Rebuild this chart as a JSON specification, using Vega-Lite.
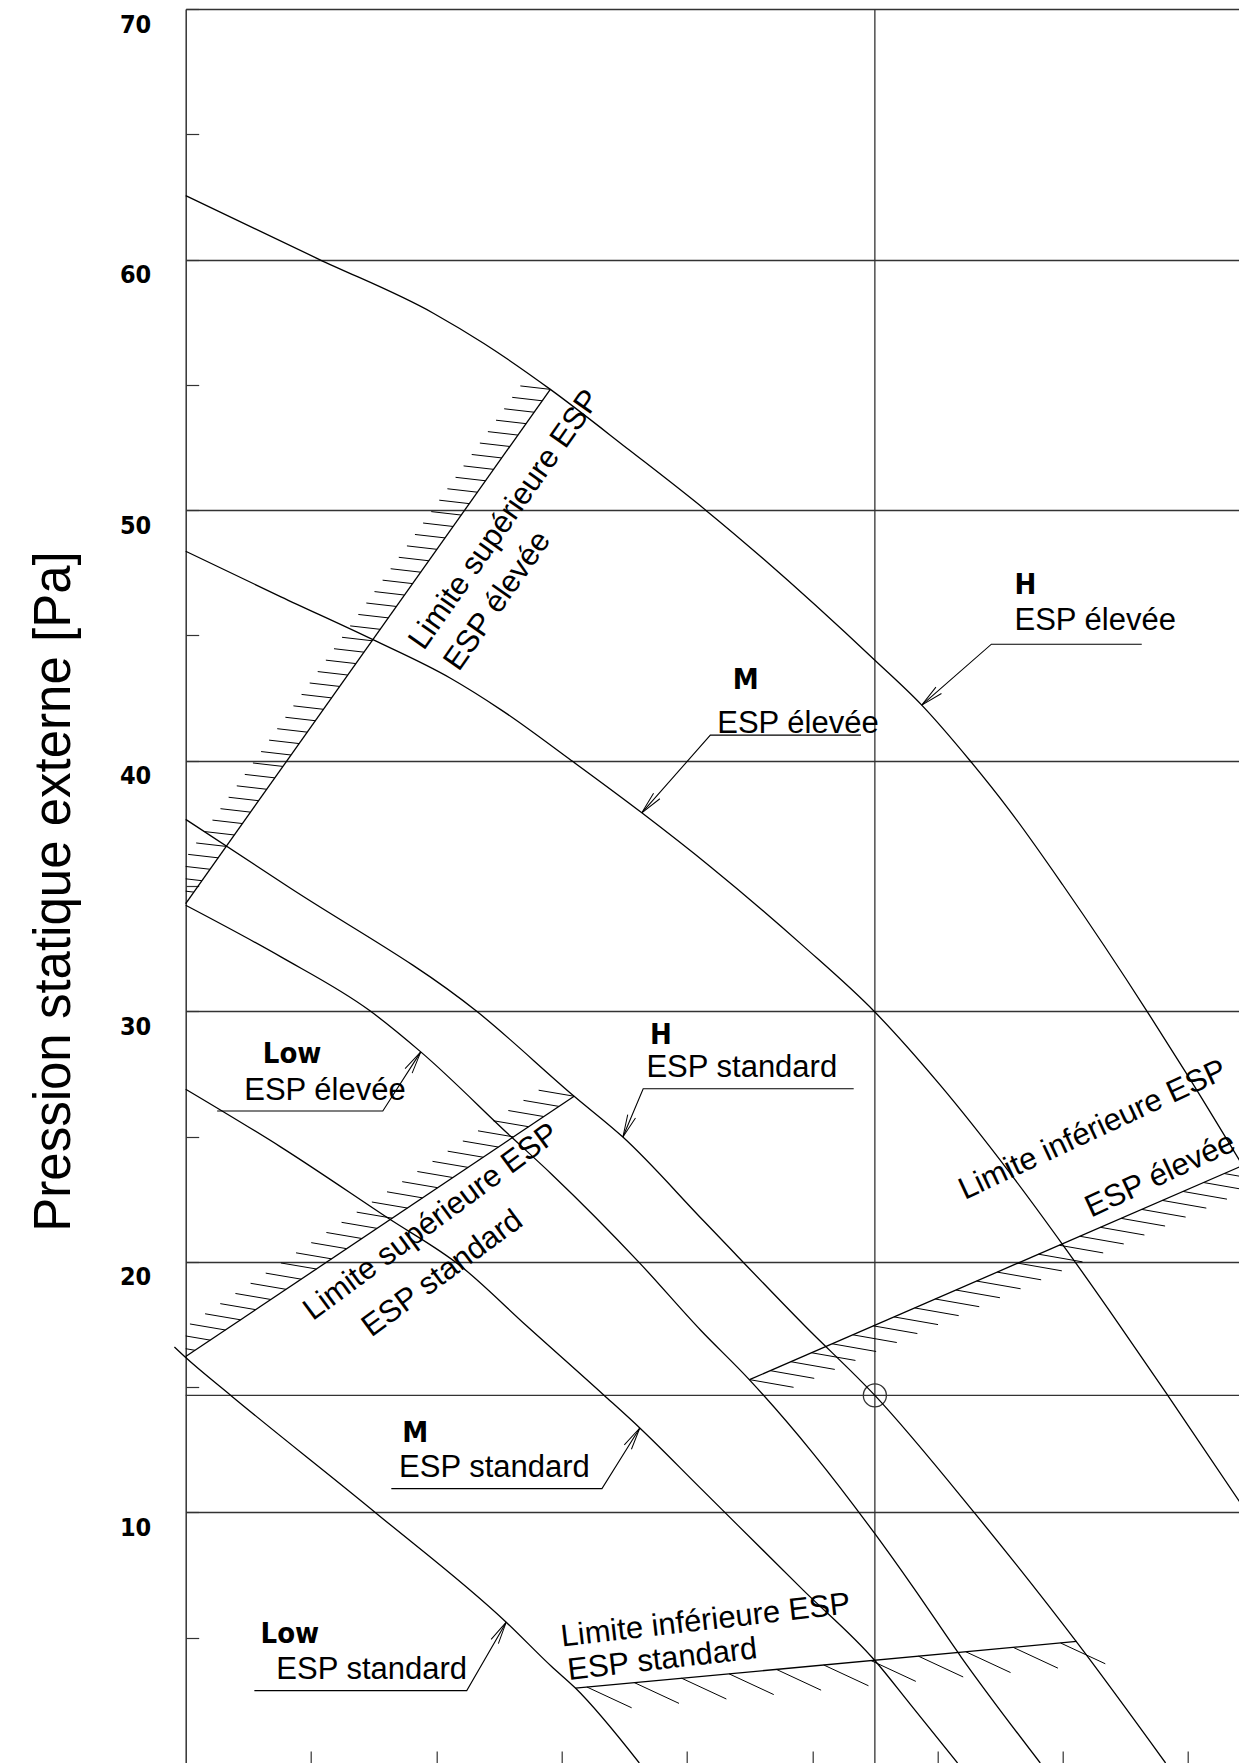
{
  "$schema": "https://vega.github.io/schema/vega-lite/v6.json",
  "width": 1053.3,
  "height": 1754,
  "autosize": {"type": "none"},
  "padding": {"left": 185.7, "top": 9, "right": 0, "bottom": 0},
  "background": "white",
  "config": {"view": {"stroke": null}},
  "datasets": {
    "curves": [
      {"c": "He", "u": 0, "v": 62.55}, {"c": "He", "u": 1.06, "v": 60.02}, {"c": "He", "u": 1.98, "v": 57.85}, {"c": "He", "u": 2.38, "v": 56.65}, {"c": "He", "u": 2.91, "v": 54.82}, {"c": "He", "u": 3.54, "v": 52.4}, {"c": "He", "u": 4.15, "v": 50.0}, {"c": "He", "u": 5.5, "v": 44.01}, {"c": "He", "u": 5.874, "v": 42.22}, {"c": "He", "u": 6.26, "v": 40.0}, {"c": "He", "u": 6.57, "v": 38.05}, {"c": "He", "u": 7.0, "v": 35.04}, {"c": "He", "u": 7.68, "v": 29.94}, {"c": "He", "u": 8.0, "v": 27.41}, {"c": "He", "u": 8.41, "v": 24.05},
      {"c": "Me", "u": 0, "v": 48.36}, {"c": "Me", "u": 0.76, "v": 46.54}, {"c": "Me", "u": 1.49, "v": 44.84}, {"c": "Me", "u": 2.11, "v": 43.3}, {"c": "Me", "u": 2.52, "v": 42.02}, {"c": "Me", "u": 3.08, "v": 40.0}, {"c": "Me", "u": 3.64, "v": 37.92}, {"c": "Me", "u": 4.19, "v": 35.76}, {"c": "Me", "u": 4.93, "v": 32.6}, {"c": "Me", "u": 5.5, "v": 29.97}, {"c": "Me", "u": 6.02, "v": 27.06}, {"c": "Me", "u": 6.57, "v": 23.6}, {"c": "Me", "u": 7.01, "v": 20.61}, {"c": "Me", "u": 7.46, "v": 17.42}, {"c": "Me", "u": 7.84, "v": 14.65}, {"c": "Me", "u": 8.41, "v": 10.43},
      {"c": "Hs", "u": 0, "v": 37.66}, {"c": "Hs", "u": 0.8, "v": 35.03}, {"c": "Hs", "u": 2.33, "v": 29.97}, {"c": "Hs", "u": 3.1, "v": 26.61}, {"c": "Hs", "u": 3.489, "v": 24.98}, {"c": "Hs", "u": 4.14, "v": 21.6}, {"c": "Hs", "u": 4.94, "v": 17.45}, {"c": "Hs", "u": 5.5, "v": 14.67}, {"c": "Hs", "u": 6.3, "v": 9.95}, {"c": "Hs", "u": 7.12, "v": 4.76}, {"c": "Hs", "u": 7.82, "v": 0},
      {"c": "Le", "u": 0, "v": 34.23}, {"c": "Le", "u": 0.76, "v": 32.17}, {"c": "Le", "u": 1.465, "v": 30.04}, {"c": "Le", "u": 1.876, "v": 28.38}, {"c": "Le", "u": 2.6, "v": 24.98}, {"c": "Le", "u": 2.92, "v": 23.5}, {"c": "Le", "u": 3.62, "v": 19.97}, {"c": "Le", "u": 4.11, "v": 17.27}, {"c": "Le", "u": 4.49, "v": 15.34}, {"c": "Le", "u": 5.01, "v": 12.34}, {"c": "Le", "u": 5.5, "v": 9.15}, {"c": "Le", "u": 5.805, "v": 7.02}, {"c": "Le", "u": 6.19, "v": 4.22}, {"c": "Le", "u": 6.82, "v": 0},
      {"c": "Ms", "u": 0, "v": 26.89}, {"c": "Ms", "u": 0.76, "v": 24.58}, {"c": "Ms", "u": 1.614, "v": 21.75}, {"c": "Ms", "u": 2.19, "v": 19.85}, {"c": "Ms", "u": 2.72, "v": 17.45}, {"c": "Ms", "u": 3.34, "v": 14.67}, {"c": "Ms", "u": 3.624, "v": 13.37}, {"c": "Ms", "u": 4.1, "v": 11.01}, {"c": "Ms", "u": 4.93, "v": 6.89}, {"c": "Ms", "u": 5.5, "v": 4.09}, {"c": "Ms", "u": 5.78, "v": 2.36}, {"c": "Ms", "u": 6.16, "v": 0},
      {"c": "Ls", "u": -0.09, "v": 16.6}, {"c": "Ls", "u": 0, "v": 16.18}, {"c": "Ls", "u": 0.36, "v": 14.67}, {"c": "Ls", "u": 1.52, "v": 9.97}, {"c": "Ls", "u": 2.558, "v": 5.62}, {"c": "Ls", "u": 2.92, "v": 3.85}, {"c": "Ls", "u": 3.11, "v": 2.99}, {"c": "Ls", "u": 3.62, "v": 0}
    ],
    "limits": [
      {"c": "se", "u": 0, "v": 34.3}, {"c": "se", "u": 2.91, "v": 54.82},
      {"c": "ss", "u": 0, "v": 16.22}, {"c": "ss", "u": 3.1, "v": 26.61},
      {"c": "ie", "u": 4.5, "v": 15.3}, {"c": "ie", "u": 8.41, "v": 23.79},
      {"c": "is", "u": 3.11, "v": 2.99}, {"c": "is", "u": 7.11, "v": 4.85}
    ],
    "refs": [
      {"u": 5.5, "u2": 5.5, "v": 0, "v2": 70},
      {"u": 0, "u2": 8.406, "v": 14.67, "v2": 14.67}
    ],
    "hatchSE": [
      {"u": 2.910, "v": 54.82}, {"u": 2.845, "v": 54.364}, {"u": 2.781, "v": 53.908}, {"u": 2.716, "v": 53.452}, {"u": 2.651, "v": 52.996}, {"u": 2.587, "v": 52.54}, {"u": 2.522, "v": 52.084}, {"u": 2.457, "v": 51.628}, {"u": 2.393, "v": 51.172}, {"u": 2.328, "v": 50.716}, {"u": 2.263, "v": 50.26}, {"u": 2.199, "v": 49.804}, {"u": 2.134, "v": 49.348}, {"u": 2.069, "v": 48.892}, {"u": 2.005, "v": 48.436}, {"u": 1.94, "v": 47.98}, {"u": 1.875, "v": 47.524}, {"u": 1.811, "v": 47.068}, {"u": 1.746, "v": 46.612}, {"u": 1.681, "v": 46.156}, {"u": 1.617, "v": 45.7}, {"u": 1.552, "v": 45.244}, {"u": 1.487, "v": 44.788}, {"u": 1.423, "v": 44.332}, {"u": 1.358, "v": 43.876}, {"u": 1.293, "v": 43.42}, {"u": 1.229, "v": 42.964}, {"u": 1.164, "v": 42.508}, {"u": 1.099, "v": 42.052}, {"u": 1.035, "v": 41.596}, {"u": 0.97, "v": 41.14}, {"u": 0.905, "v": 40.684}, {"u": 0.841, "v": 40.228}, {"u": 0.776, "v": 39.772}, {"u": 0.711, "v": 39.316}, {"u": 0.647, "v": 38.86}, {"u": 0.582, "v": 38.404}, {"u": 0.517, "v": 37.948}, {"u": 0.453, "v": 37.492}, {"u": 0.388, "v": 37.036}, {"u": 0.323, "v": 36.58}, {"u": 0.259, "v": 36.124}, {"u": 0.194, "v": 35.668}, {"u": 0.129, "v": 35.212}, {"u": 0.065, "v": 34.756}, {"u": 0.0, "v": 34.3}
    ],
    "hatchSS": [
      {"u": 3.1, "v": 26.61}, {"u": 2.979, "v": 26.204}, {"u": 2.858, "v": 25.799}, {"u": 2.737, "v": 25.393}, {"u": 2.616, "v": 24.988}, {"u": 2.495, "v": 24.582}, {"u": 2.374, "v": 24.176}, {"u": 2.253, "v": 23.771}, {"u": 2.132, "v": 23.365}, {"u": 2.011, "v": 22.96}, {"u": 1.89, "v": 22.554}, {"u": 1.769, "v": 22.148}, {"u": 1.648, "v": 21.743}, {"u": 1.527, "v": 21.337}, {"u": 1.406, "v": 20.932}, {"u": 1.285, "v": 20.526}, {"u": 1.164, "v": 20.12}, {"u": 1.043, "v": 19.715}, {"u": 0.922, "v": 19.309}, {"u": 0.801, "v": 18.904}, {"u": 0.68, "v": 18.498}, {"u": 0.559, "v": 18.092}, {"u": 0.438, "v": 17.687}, {"u": 0.317, "v": 17.281}, {"u": 0.196, "v": 16.876}, {"u": 0.075, "v": 16.47}
    ],
    "hatchIE": [
      {"u": 4.5, "v": 15.3}, {"u": 4.665, "v": 15.658}, {"u": 4.829, "v": 16.015}, {"u": 4.994, "v": 16.373}, {"u": 5.159, "v": 16.73}, {"u": 5.324, "v": 17.088}, {"u": 5.488, "v": 17.446}, {"u": 5.653, "v": 17.803}, {"u": 5.818, "v": 18.161}, {"u": 5.982, "v": 18.518}, {"u": 6.147, "v": 18.876}, {"u": 6.312, "v": 19.234}, {"u": 6.476, "v": 19.591}, {"u": 6.641, "v": 19.949}, {"u": 6.806, "v": 20.306}, {"u": 6.971, "v": 20.664}, {"u": 7.135, "v": 21.022}, {"u": 7.3, "v": 21.379}, {"u": 7.465, "v": 21.737}, {"u": 7.629, "v": 22.094}, {"u": 7.794, "v": 22.452}, {"u": 7.959, "v": 22.81}, {"u": 8.123, "v": 23.167}, {"u": 8.288, "v": 23.525}
    ],
    "hatchIS": [
      {"u": 3.202, "v": 3.033}, {"u": 3.58, "v": 3.209}, {"u": 3.958, "v": 3.384}, {"u": 4.336, "v": 3.56}, {"u": 4.714, "v": 3.736}, {"u": 5.092, "v": 3.912}, {"u": 5.47, "v": 4.087}, {"u": 5.848, "v": 4.263}, {"u": 6.226, "v": 4.439}, {"u": 6.604, "v": 4.615}, {"u": 6.982, "v": 4.79}
    ],
    "leaders": [
      {"id": "He", "o": 0, "u": 5.874, "v": 42.22}, {"id": "He", "o": 1, "u": 6.43, "v": 44.65}, {"id": "He", "o": 2, "u": 7.63, "v": 44.65},
      {"id": "Me", "o": 0, "u": 3.64, "v": 37.92}, {"id": "Me", "o": 1, "u": 4.187, "v": 41.02}, {"id": "Me", "o": 2, "u": 5.389, "v": 41.02},
      {"id": "Hs", "o": 0, "u": 3.489, "v": 24.98}, {"id": "Hs", "o": 1, "u": 3.651, "v": 26.91}, {"id": "Hs", "o": 2, "u": 5.331, "v": 26.91},
      {"id": "Le", "o": 0, "u": 1.876, "v": 28.38}, {"id": "Le", "o": 1, "u": 1.573, "v": 26.02}, {"id": "Le", "o": 2, "u": 0.251, "v": 26.02},
      {"id": "Ms", "o": 0, "u": 3.624, "v": 13.37}, {"id": "Ms", "o": 1, "u": 3.322, "v": 10.95}, {"id": "Ms", "o": 2, "u": 1.641, "v": 10.95},
      {"id": "Ls", "o": 0, "u": 2.558, "v": 5.62}, {"id": "Ls", "o": 1, "u": 2.243, "v": 2.89}, {"id": "Ls", "o": 2, "u": 0.548, "v": 2.89}
    ],
    "letters": [
      {"u": 6.614, "v": 46.67, "t": "H"}, {"u": 4.366, "v": 42.88, "t": "M"}, {"u": 3.705, "v": 28.71, "t": "H"},
      {"u": 0.615, "v": 27.94, "t": "Low"}, {"u": 1.729, "v": 12.81, "t": "M"}, {"u": 0.597, "v": 4.78, "t": "Low"}
    ],
    "esp": [
      {"u": 6.614, "v": 45.21, "t": "ESP élevée"}, {"u": 4.242, "v": 41.09, "t": "ESP élevée"}, {"u": 3.677, "v": 27.38, "t": "ESP standard"},
      {"u": 0.467, "v": 26.45, "t": "ESP élevée"}, {"u": 1.703, "v": 11.41, "t": "ESP standard"}, {"u": 0.723, "v": 3.36, "t": "ESP standard"}
    ]
  },
  "encoding": {
    "x": {"field": "u", "type": "quantitative", "scale": {"domain": [0, 8.406], "nice": false, "zero": false},
      "axis": {"values": [1, 2, 3, 4, 5, 6, 7, 8], "labels": false, "domain": false, "grid": false, "tickSize": -12, "tickColor": "#333", "tickWidth": 1.2, "title": null}},
    "y": {"field": "v", "type": "quantitative", "scale": {"domain": [0, 70], "nice": false, "zero": false},
      "axis": {"values": [5, 10, 15, 20, 25, 30, 35, 40, 45, 50, 55, 60, 65, 70],
        "labelExpr": "datum.value % 10 === 0 ? datum.label : ''",
        "grid": true, "gridColor": "#333", "gridWidth": 1.3,
        "gridOpacity": {"condition": {"test": "datum.value % 10 === 0", "value": 1}, "value": 0},
        "tickSize": -13, "tickColor": "#333", "tickWidth": 1.2, "domainColor": "#333", "domainWidth": 1.5,
        "labelFont": "'DejaVu Sans Condensed', Roboto, sans-serif", "labelFontWeight": "bold", "labelFontSize": 25, "labelColor": "black",
        "labelPadding": 48, "labelBaseline": "top", "labelOffset": 3, "labelFlush": false, "labelOverlap": false, "labelBound": false,
        "title": "Pression statique externe [Pa]", "titleFont": "Liberation Sans", "titleFontWeight": "normal", "titleFontSize": 51,
        "titleColor": "black", "titleAngle": -90, "titleX": -116, "titleY": 882, "titleAlign": "center", "titleBaseline": "alphabetic"}}
  },
  "layer": [
    {"data": {"name": "refs"}, "mark": {"type": "rule", "color": "#333", "strokeWidth": 1.3},
      "encoding": {"x2": {"field": "u2"}, "y2": {"field": "v2"}}},
    {"data": {"values": [{"u": 5.5, "v": 14.67}]}, "mark": {"type": "point", "shape": "circle", "size": 531, "filled": false, "stroke": "#333", "strokeWidth": 1.3, "opacity": 1}},
    {"data": {"name": "curves"}, "mark": {"type": "line", "interpolate": "monotone", "color": "black", "strokeWidth": 1.3},
      "encoding": {"detail": {"field": "c"}}},
    {"data": {"name": "limits"}, "mark": {"type": "line", "color": "black", "strokeWidth": 1.3},
      "encoding": {"detail": {"field": "c"}}},
    {"data": {"name": "hatchSE"}, "mark": {"type": "point", "shape": "M0,0L-2,-0.23", "size": 900, "filled": false, "stroke": "black", "strokeWidth": 1, "opacity": 1, "clip": true}},
    {"data": {"name": "hatchSS"}, "mark": {"type": "point", "shape": "M0,0L-2,-0.34", "size": 1260, "filled": false, "stroke": "black", "strokeWidth": 1, "opacity": 1, "clip": true}},
    {"data": {"name": "hatchIE"}, "mark": {"type": "point", "shape": "M0,0L2,0.35", "size": 1936, "filled": false, "stroke": "black", "strokeWidth": 1, "opacity": 1}},
    {"data": {"name": "hatchIS"}, "mark": {"type": "point", "shape": "M0,0L2,0.93", "size": 2000, "filled": false, "stroke": "black", "strokeWidth": 1, "opacity": 1}},
    {"data": {"name": "leaders"}, "mark": {"type": "line", "color": "black", "strokeWidth": 1.1},
      "encoding": {"detail": {"field": "id"}, "order": {"field": "o", "type": "quantitative"}}},
    {"data": {"values": [{"u": 5.874, "v": 42.22}]}, "mark": {"type": "point", "shape": "M-0.28,1.5L0,0L0.28,1.5", "size": 900, "angle": 228.9, "filled": false, "stroke": "black", "strokeWidth": 1, "opacity": 1}},
    {"data": {"values": [{"u": 3.64, "v": 37.92}]}, "mark": {"type": "point", "shape": "M-0.28,1.5L0,0L0.28,1.5", "size": 900, "angle": 221.5, "filled": false, "stroke": "black", "strokeWidth": 1, "opacity": 1}},
    {"data": {"values": [{"u": 3.489, "v": 24.98}]}, "mark": {"type": "point", "shape": "M-0.28,1.5L0,0L0.28,1.5", "size": 900, "angle": 202.8, "filled": false, "stroke": "black", "strokeWidth": 1, "opacity": 1}},
    {"data": {"values": [{"u": 1.876, "v": 28.38}]}, "mark": {"type": "point", "shape": "M-0.28,1.5L0,0L0.28,1.5", "size": 900, "angle": 32.7, "filled": false, "stroke": "black", "strokeWidth": 1, "opacity": 1}},
    {"data": {"values": [{"u": 3.624, "v": 13.37}]}, "mark": {"type": "point", "shape": "M-0.28,1.5L0,0L0.28,1.5", "size": 900, "angle": 32.0, "filled": false, "stroke": "black", "strokeWidth": 1, "opacity": 1}},
    {"data": {"values": [{"u": 2.558, "v": 5.62}]}, "mark": {"type": "point", "shape": "M-0.28,1.5L0,0L0.28,1.5", "size": 900, "angle": 30.7, "filled": false, "stroke": "black", "strokeWidth": 1, "opacity": 1}},
    {"data": {"name": "letters"}, "mark": {"type": "text", "font": "'DejaVu Sans Condensed', Roboto, sans-serif", "fontWeight": "bold", "fontSize": 29, "align": "left", "baseline": "alphabetic", "color": "black"},
      "encoding": {"text": {"field": "t"}}},
    {"data": {"name": "esp"}, "mark": {"type": "text", "font": "Liberation Sans", "fontSize": 31, "align": "left", "baseline": "alphabetic", "color": "black"},
      "encoding": {"text": {"field": "t"}}},
    {"data": {"values": [{"u": 2.548, "v": 49.61, "t": "Limite supérieure ESP"}, {"u": 2.49, "v": 46.37, "t": "ESP élevée"}]},
      "mark": {"type": "text", "font": "Liberation Sans", "fontSize": 31, "align": "center", "baseline": "middle", "angle": -54.9, "color": "black"},
      "encoding": {"text": {"field": "t"}}},
    {"data": {"values": [{"u": 1.96, "v": 21.58, "t": "Limite supérieure ESP"}, {"u": 2.05, "v": 19.52, "t": "ESP standard"}]},
      "mark": {"type": "text", "font": "Liberation Sans", "fontSize": 31, "align": "center", "baseline": "middle", "angle": -36.5, "color": "black"},
      "encoding": {"text": {"field": "t"}}},
    {"data": {"values": [{"u": 7.24, "v": 25.25, "t": "Limite inférieure ESP"}, {"u": 7.778, "v": 23.45, "t": "ESP élevée"}]},
      "mark": {"type": "text", "font": "Liberation Sans", "fontSize": 31, "align": "center", "baseline": "middle", "angle": -25, "color": "black"},
      "encoding": {"text": {"field": "t"}}},
    {"data": {"values": [{"u": 4.149, "v": 5.67, "t": "Limite inférieure ESP"}, {"u": 3.805, "v": 4.11, "t": "ESP standard"}]},
      "mark": {"type": "text", "font": "Liberation Sans", "fontSize": 31, "align": "center", "baseline": "middle", "angle": -6.6, "color": "black"},
      "encoding": {"text": {"field": "t"}}}
  ]
}
